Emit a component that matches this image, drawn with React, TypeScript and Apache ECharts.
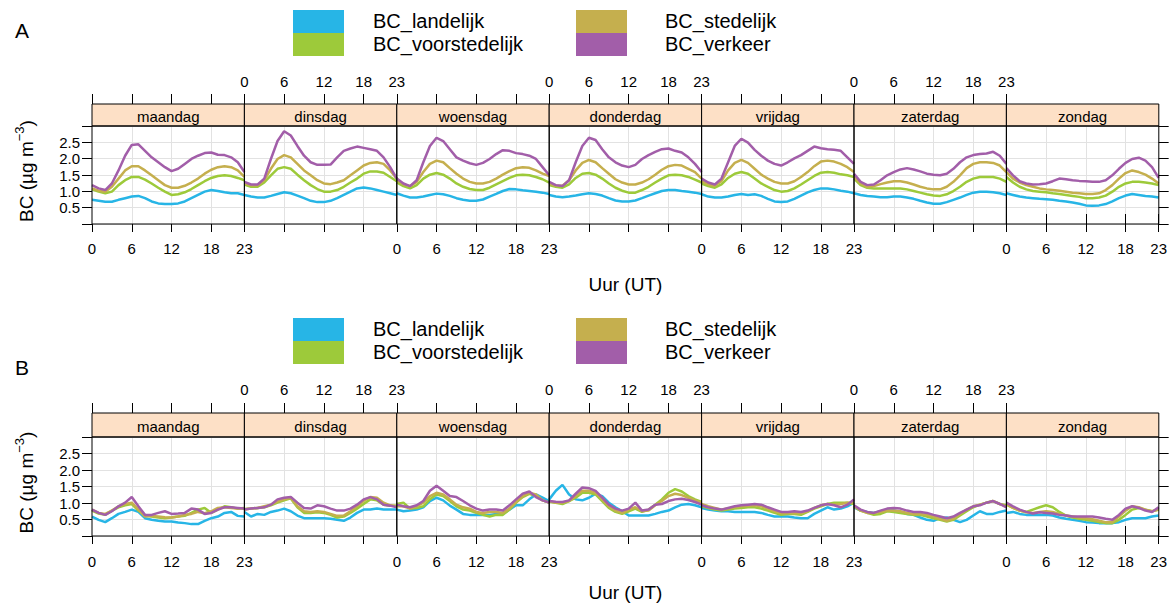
import React, { useEffect, useRef } from "react";
import * as echarts from "echarts";

const DAYS = ["maandag", "dinsdag", "woensdag", "donderdag", "vrijdag", "zaterdag", "zondag"];
const SERIES_NAMES = ["BC_landelijk", "BC_voorstedelijk", "BC_stedelijk", "BC_verkeer"];
const COLORS = ["#27B5E6", "#9DCA3A", "#C5AF4E", "#A25EA9"];
const HOURS = Array.from({ length: 24 }, (_, i) => String(i));
const Y_TICKS = [0.5, 1.0, 1.5, 2.0, 2.5];

// Panel A (7 days x 24 hours)
const A_landelijk = [
  [0.74,0.71,0.68,0.68,0.74,0.79,0.84,0.86,0.79,0.69,0.63,0.61,0.61,0.63,0.69,0.79,0.89,0.99,1.04,1.01,0.97,0.94,0.94,0.89],
  [0.89,0.84,0.81,0.81,0.86,0.92,0.97,0.94,0.87,0.79,0.71,0.67,0.67,0.71,0.79,0.89,0.99,1.09,1.12,1.09,1.04,0.99,0.94,0.89],
  [0.94,0.87,0.81,0.81,0.84,0.89,0.93,0.91,0.86,0.79,0.74,0.71,0.71,0.75,0.84,0.92,1.01,1.07,1.06,1.03,1.01,0.99,0.96,0.92],
  [0.89,0.84,0.82,0.84,0.87,0.91,0.94,0.92,0.87,0.79,0.72,0.69,0.69,0.72,0.79,0.87,0.94,1.01,1.04,1.04,1.01,0.99,0.96,0.92],
  [0.91,0.84,0.81,0.81,0.84,0.89,0.92,0.89,0.91,0.86,0.77,0.69,0.67,0.69,0.77,0.87,0.97,1.04,1.09,1.09,1.06,1.02,0.99,0.94],
  [0.94,0.89,0.86,0.84,0.82,0.82,0.84,0.84,0.81,0.77,0.71,0.66,0.62,0.62,0.67,0.74,0.81,0.89,0.96,0.99,0.99,0.97,0.94,0.89],
  [0.94,0.89,0.84,0.81,0.79,0.77,0.76,0.74,0.71,0.69,0.66,0.62,0.57,0.56,0.57,0.61,0.69,0.79,0.87,0.92,0.89,0.86,0.84,0.81],
];
const A_voorstedelijk = [
  [1.06,0.99,0.94,0.99,1.19,1.34,1.44,1.44,1.36,1.24,1.11,0.99,0.89,0.91,0.97,1.07,1.19,1.31,1.41,1.47,1.49,1.47,1.41,1.34],
  [1.21,1.14,1.14,1.27,1.49,1.69,1.74,1.69,1.51,1.34,1.19,1.07,0.99,0.99,1.04,1.14,1.27,1.39,1.54,1.61,1.61,1.57,1.44,1.31],
  [1.27,1.16,1.09,1.19,1.39,1.51,1.56,1.51,1.39,1.24,1.14,1.07,1.04,1.04,1.11,1.21,1.31,1.41,1.49,1.51,1.49,1.44,1.37,1.27],
  [1.19,1.14,1.11,1.21,1.41,1.54,1.56,1.51,1.39,1.24,1.11,1.02,0.96,0.96,1.04,1.14,1.27,1.39,1.49,1.51,1.49,1.44,1.36,1.27],
  [1.24,1.16,1.11,1.21,1.41,1.54,1.59,1.54,1.39,1.24,1.14,1.04,0.99,1.01,1.09,1.21,1.34,1.47,1.57,1.59,1.57,1.52,1.49,1.44],
  [1.39,1.19,1.11,1.09,1.09,1.09,1.09,1.09,1.06,1.01,0.96,0.91,0.87,0.86,0.91,1.01,1.14,1.29,1.39,1.44,1.44,1.44,1.39,1.29],
  [1.44,1.27,1.14,1.06,1.01,0.99,0.97,0.94,0.92,0.89,0.86,0.83,0.79,0.79,0.81,0.87,0.99,1.14,1.24,1.29,1.29,1.27,1.24,1.19],
];
const A_stedelijk = [
  [1.09,1.02,0.99,1.14,1.39,1.64,1.77,1.77,1.64,1.49,1.34,1.19,1.11,1.11,1.17,1.27,1.39,1.54,1.66,1.74,1.77,1.74,1.64,1.44],
  [1.24,1.19,1.19,1.34,1.69,1.99,2.11,2.04,1.84,1.64,1.49,1.34,1.24,1.22,1.27,1.34,1.49,1.64,1.79,1.87,1.89,1.84,1.64,1.39],
  [1.34,1.21,1.16,1.29,1.59,1.84,1.94,1.89,1.71,1.54,1.39,1.29,1.24,1.24,1.29,1.39,1.51,1.62,1.71,1.74,1.72,1.64,1.54,1.47],
  [1.24,1.17,1.17,1.34,1.64,1.87,1.96,1.89,1.71,1.54,1.37,1.27,1.21,1.21,1.27,1.37,1.51,1.66,1.77,1.81,1.79,1.69,1.59,1.39],
  [1.31,1.21,1.17,1.31,1.64,1.87,1.96,1.87,1.69,1.51,1.39,1.29,1.24,1.24,1.31,1.44,1.59,1.77,1.91,1.94,1.91,1.84,1.74,1.59],
  [1.44,1.24,1.14,1.16,1.22,1.27,1.31,1.31,1.27,1.21,1.14,1.09,1.06,1.06,1.14,1.29,1.49,1.71,1.84,1.89,1.89,1.87,1.79,1.59],
  [1.59,1.39,1.27,1.19,1.14,1.09,1.06,1.04,1.02,0.99,0.96,0.94,0.92,0.92,0.94,1.04,1.19,1.39,1.56,1.64,1.59,1.51,1.39,1.24],
];
const A_verkeer = [
  [1.19,1.09,1.04,1.24,1.64,2.09,2.42,2.44,2.24,2.04,1.89,1.74,1.62,1.69,1.84,1.99,2.09,2.17,2.19,2.12,2.11,2.04,1.89,1.59],
  [1.29,1.21,1.21,1.39,1.99,2.54,2.84,2.71,2.39,2.09,1.89,1.81,1.81,1.82,2.04,2.24,2.31,2.37,2.33,2.29,2.24,2.04,1.74,1.39],
  [1.39,1.24,1.16,1.34,1.89,2.39,2.64,2.54,2.29,2.04,1.94,1.86,1.81,1.87,1.99,2.14,2.26,2.24,2.17,2.14,2.09,1.99,1.74,1.49],
  [1.29,1.19,1.16,1.34,1.89,2.39,2.64,2.57,2.29,2.04,1.89,1.79,1.74,1.81,1.99,2.11,2.21,2.29,2.31,2.24,2.19,2.04,1.84,1.59],
  [1.39,1.27,1.21,1.39,1.89,2.39,2.61,2.49,2.27,2.09,1.94,1.84,1.79,1.89,2.01,2.11,2.24,2.37,2.32,2.29,2.27,2.24,2.04,1.84],
  [1.54,1.29,1.19,1.21,1.34,1.49,1.59,1.67,1.71,1.67,1.61,1.54,1.51,1.49,1.54,1.69,1.89,2.04,2.11,2.14,2.16,2.21,2.09,1.84],
  [1.71,1.49,1.31,1.24,1.21,1.22,1.24,1.31,1.39,1.37,1.34,1.32,1.31,1.29,1.29,1.34,1.49,1.69,1.87,1.99,2.03,1.94,1.74,1.41],
];

// Panel B (7 days x 24 hours)
const B_landelijk = [
  [0.59,0.49,0.42,0.54,0.67,0.73,0.80,0.73,0.54,0.49,0.46,0.44,0.44,0.41,0.39,0.36,0.36,0.46,0.54,0.59,0.70,0.73,0.61,0.59],
  [0.73,0.59,0.67,0.64,0.73,0.77,0.83,0.75,0.62,0.54,0.54,0.54,0.54,0.52,0.49,0.46,0.56,0.70,0.80,0.80,0.83,0.80,0.80,0.80],
  [0.80,0.75,0.77,0.80,0.87,1.06,1.16,1.08,0.92,0.80,0.67,0.64,0.64,0.64,0.64,0.67,0.67,0.80,0.93,0.93,1.11,1.26,1.16,1.06],
  [1.11,1.37,1.55,1.26,1.11,1.08,1.16,1.28,1.21,1.01,0.87,0.75,0.62,0.62,0.62,0.62,0.67,0.73,0.77,0.87,0.95,0.97,0.93,0.87],
  [0.85,0.80,0.77,0.75,0.75,0.73,0.73,0.73,0.73,0.70,0.64,0.59,0.59,0.59,0.56,0.54,0.54,0.67,0.77,0.87,0.80,0.83,0.90,1.01],
  [0.87,0.77,0.73,0.70,0.75,0.77,0.77,0.73,0.67,0.64,0.56,0.49,0.46,0.54,0.56,0.49,0.42,0.49,0.62,0.75,0.67,0.67,0.73,0.77],
  [0.70,0.73,0.67,0.64,0.64,0.64,0.64,0.62,0.56,0.52,0.49,0.46,0.42,0.41,0.39,0.39,0.39,0.42,0.49,0.54,0.54,0.54,0.59,0.62],
];
const B_voorstedelijk = [
  [0.77,0.68,0.64,0.77,0.87,0.93,0.97,0.77,0.62,0.59,0.56,0.54,0.56,0.59,0.61,0.70,0.80,0.85,0.70,0.80,0.90,0.87,0.83,0.85],
  [0.82,0.83,0.85,0.87,0.93,1.01,1.08,1.14,0.87,0.70,0.70,0.72,0.70,0.64,0.56,0.59,0.70,0.83,0.97,1.11,1.08,0.95,0.92,0.92],
  [0.97,1.01,0.83,0.85,0.90,1.11,1.26,1.21,1.06,0.90,0.80,0.77,0.70,0.64,0.59,0.64,0.64,0.80,1.01,1.18,1.28,1.21,1.08,1.01],
  [1.04,1.01,0.97,1.06,1.16,1.31,1.31,1.26,1.06,0.85,0.73,0.67,0.75,0.83,0.73,0.80,0.95,1.11,1.31,1.42,1.35,1.21,1.11,1.03],
  [0.90,0.85,0.80,0.77,0.80,0.83,0.85,0.87,0.87,0.83,0.77,0.70,0.64,0.67,0.67,0.64,0.73,0.83,0.90,0.97,1.01,1.01,1.01,0.97],
  [0.90,0.77,0.70,0.64,0.67,0.75,0.73,0.70,0.67,0.64,0.64,0.59,0.54,0.49,0.44,0.49,0.62,0.75,0.87,0.95,1.01,1.06,0.97,0.93],
  [0.95,0.85,0.77,0.73,0.80,0.87,0.93,0.87,0.73,0.62,0.56,0.52,0.49,0.46,0.42,0.39,0.39,0.49,0.64,0.80,0.85,0.80,0.75,0.80],
];
const B_stedelijk = [
  [0.80,0.70,0.67,0.77,0.90,0.97,1.01,0.80,0.59,0.61,0.59,0.57,0.56,0.59,0.64,0.67,0.73,0.69,0.75,0.85,0.87,0.85,0.83,0.83],
  [0.80,0.83,0.85,0.90,0.95,1.04,1.11,1.16,0.90,0.75,0.73,0.75,0.73,0.67,0.61,0.62,0.75,0.90,1.06,1.18,1.16,1.01,0.93,0.90],
  [0.90,0.90,0.83,0.90,1.01,1.21,1.31,1.26,1.11,0.95,0.87,0.83,0.73,0.70,0.73,0.73,0.70,0.83,1.03,1.21,1.31,1.26,1.08,1.01],
  [1.06,1.01,1.01,1.06,1.21,1.37,1.37,1.31,1.11,0.90,0.77,0.70,0.80,0.87,0.75,0.77,0.93,1.06,1.21,1.28,1.24,1.16,1.08,1.01],
  [0.97,0.90,0.85,0.80,0.83,0.87,0.90,0.92,0.93,0.90,0.83,0.75,0.69,0.69,0.70,0.69,0.75,0.85,0.93,0.97,0.95,0.97,1.01,1.01],
  [0.90,0.77,0.70,0.70,0.73,0.77,0.77,0.75,0.70,0.67,0.67,0.64,0.59,0.52,0.46,0.52,0.67,0.80,0.90,0.95,1.01,1.06,0.97,0.90],
  [0.97,0.85,0.77,0.72,0.70,0.73,0.75,0.73,0.67,0.62,0.59,0.56,0.54,0.51,0.46,0.42,0.42,0.59,0.77,0.90,0.87,0.80,0.75,0.80],
];
const B_verkeer = [
  [0.80,0.70,0.64,0.75,0.90,1.01,1.18,0.90,0.64,0.64,0.70,0.75,0.67,0.68,0.70,0.83,0.80,0.67,0.70,0.80,0.87,0.87,0.85,0.83],
  [0.80,0.83,0.85,0.87,0.95,1.11,1.16,1.18,1.01,0.85,0.83,0.93,0.90,0.83,0.77,0.77,0.83,0.95,1.11,1.18,1.11,0.95,0.92,0.87],
  [0.95,0.90,0.87,0.93,1.06,1.37,1.52,1.37,1.21,1.18,1.06,0.93,0.83,0.77,0.80,0.80,0.77,0.93,1.11,1.28,1.35,1.18,1.08,1.01],
  [1.06,1.04,1.03,1.08,1.28,1.47,1.45,1.37,1.16,0.95,0.83,0.77,0.83,1.01,0.77,0.80,0.95,0.97,1.06,1.11,1.13,1.09,1.03,0.95],
  [0.93,0.87,0.83,0.80,0.85,0.90,0.93,0.95,0.97,0.95,0.87,0.80,0.73,0.73,0.75,0.73,0.77,0.85,0.93,0.97,0.93,0.87,0.95,1.11],
  [0.93,0.80,0.73,0.70,0.77,0.83,0.85,0.83,0.77,0.73,0.73,0.70,0.64,0.59,0.54,0.59,0.70,0.80,0.90,0.93,1.01,1.06,0.97,0.87],
  [1.01,0.90,0.80,0.73,0.68,0.72,0.70,0.68,0.64,0.62,0.59,0.59,0.59,0.59,0.56,0.52,0.49,0.64,0.83,0.90,0.85,0.77,0.73,0.87],
];

const FONT = "'Liberation Sans', Arial, Helvetica, sans-serif";
const GRID_COLOR = "#E2E2E2";
const STRIP_FILL = "#FDE0C6";
const X0 = 92;
const COLW = 152.4;

const PANELS = [
  { label: "A", labelY: 30, legendTop: 10, plotTop: 126, plotH: 98, stripTop: 104, topMargin: 15, bottomMargin: 17, xNameY: 284,
    data: [A_landelijk, A_voorstedelijk, A_stedelijk, A_verkeer] },
  { label: "B", labelY: 367, legendTop: 318, plotTop: 437, plotH: 99, stripTop: 413, topMargin: 16, bottomMargin: 18, xNameY: 592,
    data: [B_landelijk, B_voorstedelijk, B_stedelijk, B_verkeer] },
];

const tickIdx = (i: number) => i % 6 === 0 || i === 23;
const gridIdx = (i: number) => i === 6 || i === 12 || i === 18;

function buildOption() {
  const grids: any[] = [];
  const bottomX: any[] = [];
  const topX: any[] = [];
  const yMain: any[] = [];
  const yRight: any[] = [];
  const series: any[] = [];
  const graphics: any[] = [];

  PANELS.forEach((p, pi) => {
    const stripH = p.plotTop - p.stripTop;
    for (let c = 0; c < 7; c++) {
      const gi = pi * 7 + c;
      const left = X0 + c * COLW;
      grids.push({ left, top: p.plotTop, width: COLW, height: p.plotH, containLabel: false });
      bottomX.push({
        type: "category", gridIndex: gi, data: HOURS, boundaryGap: false, position: "bottom",
        axisLine: { show: false },
        axisTick: { show: true, interval: tickIdx, length: 8, lineStyle: { color: "#000", width: 1 } },
        axisLabel: { show: c % 2 === 0, interval: tickIdx, margin: p.bottomMargin, fontSize: 15, color: "#000", fontFamily: FONT },
        splitLine: { show: true, interval: gridIdx, lineStyle: { color: GRID_COLOR, width: 1 } },
      });
      topX.push({
        type: "category", gridIndex: gi, data: HOURS, boundaryGap: false, position: "top", offset: stripH,
        axisLine: { show: false },
        axisTick: { show: true, interval: tickIdx, length: 10, lineStyle: { color: "#000", width: 1 } },
        axisLabel: { show: c % 2 === 1, interval: tickIdx, margin: p.topMargin, fontSize: 15, color: "#000", fontFamily: FONT },
        splitLine: { show: false },
      });
      yMain.push({
        type: "value", gridIndex: gi, min: 0, max: 3, interval: 0.5, position: "left",
        axisLine: { show: false },
        axisTick: { show: c === 0, length: 10, lineStyle: { color: "#000", width: 1 } },
        axisLabel: {
          show: c === 0, margin: 12, fontSize: 15, color: "#000", fontFamily: FONT,
          formatter: (v: number) => (Y_TICKS.includes(v) ? v.toFixed(1) : ""),
        },
        splitLine: { show: true, lineStyle: { color: GRID_COLOR, width: 1 } },
      });
      if (c === 6) {
        yRight.push({
          type: "value", gridIndex: gi, min: 0, max: 3, interval: 0.5, position: "right",
          axisLine: { show: false },
          axisTick: { show: true, length: 10, lineStyle: { color: "#000", width: 1 } },
          axisLabel: { show: false },
          splitLine: { show: false },
        });
      }
      p.data.forEach((arr, si) => {
        series.push({
          type: "line", name: SERIES_NAMES[si], xAxisIndex: gi, yAxisIndex: gi,
          data: arr[c], showSymbol: false, symbol: "none", silent: true,
          lineStyle: { color: COLORS[si], width: 2.5 }, itemStyle: { color: COLORS[si] }, z: 3 + si,
        });
      });
      graphics.push({
        type: "rect", silent: true, z: 100,
        shape: { x: left, y: p.plotTop, width: COLW, height: p.plotH },
        style: { fill: "none", stroke: "#000", lineWidth: 1 },
      });
      graphics.push({
        type: "rect", silent: true, z: 90,
        shape: { x: left, y: p.stripTop, width: COLW, height: stripH },
        style: { fill: STRIP_FILL, stroke: "#000", lineWidth: 1 },
      });
      graphics.push({
        type: "text", silent: true, z: 95, x: left + COLW / 2, y: p.stripTop + stripH / 2 + 1,
        style: { text: DAYS[c], fill: "#000", font: `15px ${FONT}`, textAlign: "center", textVerticalAlign: "middle" },
      });
    }
    graphics.push({
      type: "text", silent: true, x: 22, y: p.labelY,
      style: { text: p.label, fill: "#000", font: `21px ${FONT}`, textAlign: "center", textVerticalAlign: "middle" },
    });
    const legendCols = [{ bx: 293, tx: 373 }, { bx: 576, tx: 665 }];
    for (let k = 0; k < 4; k++) {
      const col = legendCols[Math.floor(k / 2)];
      const row = k % 2;
      const by = p.legendTop + row * 23;
      graphics.push({
        type: "rect", silent: true, shape: { x: col.bx, y: by, width: 51, height: 23 },
        style: { fill: COLORS[k], stroke: "none" },
      });
      graphics.push({
        type: "text", silent: true, x: col.tx, y: by + 11,
        style: { text: SERIES_NAMES[k], fill: "#000", font: `20px ${FONT}`, textAlign: "left", textVerticalAlign: "middle" },
      });
    }
    graphics.push({
      type: "text", silent: true, x: X0 + 3.5 * COLW, y: p.xNameY,
      style: { text: "Uur (UT)", fill: "#000", font: `19px ${FONT}`, textAlign: "center", textVerticalAlign: "middle" },
    });
    graphics.push({
      type: "text", silent: true, x: 24, y: p.plotTop + p.plotH / 2 - 4, rotation: Math.PI / 2,
      style: {
        text: "{a|BC (µg m}{s|−3}{a|)}", fill: "#000", textAlign: "center", textVerticalAlign: "middle",
        rich: {
          a: { fontSize: 19, fontFamily: FONT, fill: "#000", lineHeight: 23, verticalAlign: "bottom" },
          s: { fontSize: 13, fontFamily: FONT, fill: "#000", lineHeight: 23, verticalAlign: "top", padding: [0, 0, 8, 0] },
        },
      },
    });
  });

  return {
    animation: false,
    backgroundColor: "#fff",
    grid: grids,
    xAxis: [...bottomX, ...topX],
    yAxis: [...yMain, ...yRight],
    series,
    graphic: { elements: graphics },
  };
}

export default function App() {
  const ref = useRef<HTMLDivElement>(null);
  useEffect(() => {
    if (!ref.current) return;
    const chart = echarts.init(ref.current, undefined, { renderer: "svg" });
    chart.setOption(buildOption() as any);
    return () => chart.dispose();
  }, []);
  return (
    <div
      ref={ref}
      style={{ position: "absolute", left: 0, top: 0, width: 1170, height: 612, background: "#fff" }}
    />
  );
}
